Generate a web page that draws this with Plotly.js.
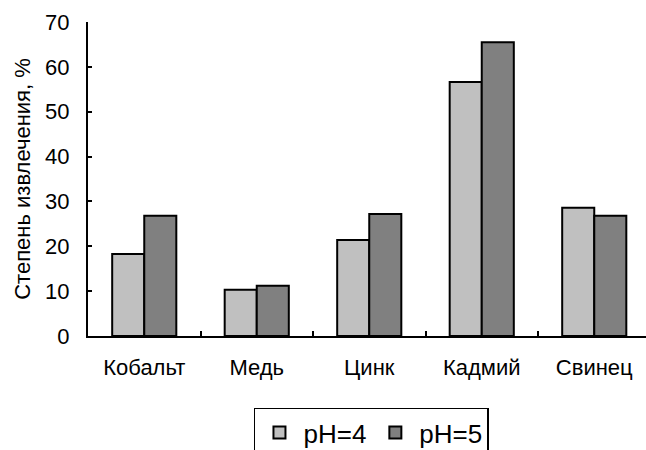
<!DOCTYPE html>
<html>
<head>
<meta charset="utf-8">
<script src="https://cdn.plot.ly/plotly-3.0.1.min.js"></script>
<style>body{margin:0;padding:0;background:#fff}#chart{width:646px;height:450px}</style>
</head>
<body>
<div id="chart"></div>
<script>
const categories = ["Кобальт", "Медь", "Цинк", "Кадмий", "Свинец"];
const seriesNames = ["pH=4", "pH=5"];
const ph4 = [18.3, 10.3, 21.4, 56.6, 28.6];
const ph5 = [26.8, 11.2, 27.2, 65.5, 26.8];
const yTicks = [0, 10, 20, 30, 40, 50, 60, 70];

const fontFam = "Liberation Sans, Arial, sans-serif";
const data = [
  {type: "bar", name: seriesNames[0], x: categories, y: ph4,
   marker: {color: "#c0c0c0", line: {color: "#000", width: 2}}},
  {type: "bar", name: seriesNames[1], x: categories, y: ph5,
   marker: {color: "#808080", line: {color: "#000", width: 2}}}
];
const layout = {
  width: 646, height: 450,
  margin: {l: 88, r: 0, t: 21.5, b: 113.5, autoexpand: false},
  paper_bgcolor: "#fff", plot_bgcolor: "#fff",
  barmode: "group", bargap: 0.43, bargroupgap: 0,
  font: {family: fontFam, color: "#000", size: 22},
  showlegend: true,
  legend: {orientation: "h", x: 0.508, xanchor: "center", y: -0.228, yanchor: "top",
    bordercolor: "#000", borderwidth: 1.5, font: {size: 26, family: fontFam},
    itemsizing: "constant", itemwidth: 38},
  xaxis: {type: "category", range: [-0.5, 4.46], automargin: false, showline: true, linecolor: "#000", linewidth: 2,
    ticks: "inside", tickson: "boundaries", ticklen: 5, tickwidth: 2, tickcolor: "#000",
    showgrid: false, zeroline: false, ticklabelstandoff: 11, tickfont: {size: 22}},
  yaxis: {range: [0, 70], tickvals: yTicks, automargin: false, showline: true, linecolor: "#000", linewidth: 2,
    ticks: "inside", ticklen: 4, tickwidth: 2, tickcolor: "#000",
    showgrid: false, zeroline: false, ticklabelstandoff: 12, tickfont: {size: 22},
    title: {text: "Степень извлечения, %", font: {size: 22}, standoff: 8}}
};
Plotly.newPlot("chart", data, layout, {staticPlot: true});
</script>
</body>
</html>
